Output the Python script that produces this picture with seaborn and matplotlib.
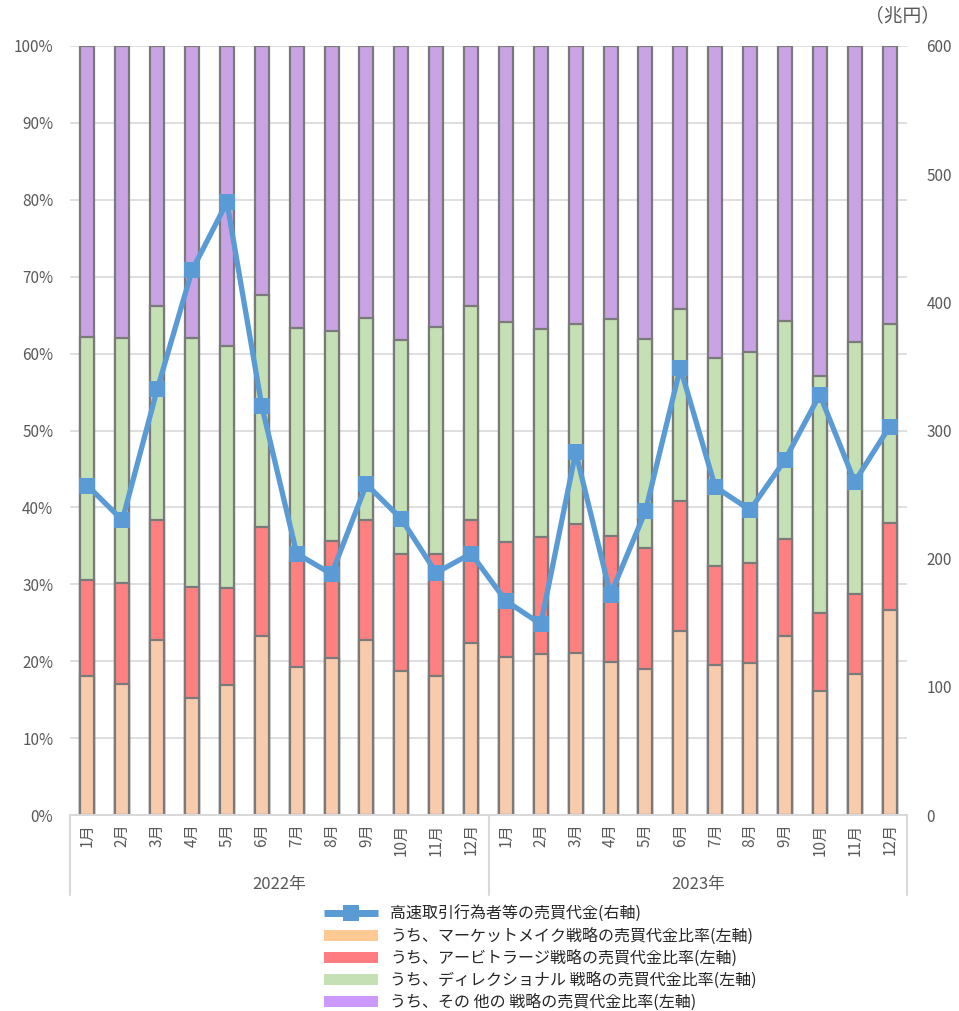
# -*- coding: utf-8 -*-
import numpy as np
import pandas as pd

import matplotlib
matplotlib.use('Agg')
import matplotlib.pyplot as plt
import matplotlib.transforms as mtransforms
from matplotlib.patches import Patch
from matplotlib.lines import Line2D
import seaborn as sns

sns.set_style("white")
plt.rcParams['font.family'] = ['Noto Sans CJK JP', 'DejaVu Sans']

years = ["2022年", "2023年"]
months = ["1月", "2月", "3月", "4月", "5月", "6月", "7月", "8月", "9月", "10月", "11月", "12月"]

# shares (%) by strategy, 2022/1 .. 2023/12
market_make = [18.1, 17.0, 22.8, 15.2, 16.9, 23.3, 19.2, 20.4, 22.8, 18.7, 18.1, 22.4,
               20.5, 20.9, 21.1, 19.9, 19.0, 23.9, 19.5, 19.8, 23.3, 16.1, 18.3, 26.7]
arbitrage = [12.5, 13.2, 15.6, 14.4, 12.6, 14.2, 14.0, 15.2, 15.6, 15.2, 15.8, 16.0,
             15.0, 15.3, 16.7, 16.4, 15.7, 16.9, 12.9, 13.0, 12.6, 10.2, 10.4, 11.3]
directional = [31.6, 31.8, 27.8, 32.4, 31.5, 30.1, 30.1, 27.3, 26.2, 27.9, 29.6, 27.8,
               28.6, 27.0, 26.0, 28.2, 27.2, 25.0, 27.0, 27.4, 28.3, 30.8, 32.8, 25.8]
other = [37.8, 38.0, 33.8, 38.0, 39.0, 32.4, 36.7, 37.1, 35.4, 38.2, 36.5, 33.8,
         35.9, 36.8, 36.2, 35.5, 38.1, 34.2, 40.6, 39.8, 35.8, 42.9, 38.5, 36.2]
# HFT turnover (trillion yen, right axis)
turnover = [257, 230, 332, 425, 478, 319, 204, 188, 258, 231, 189, 204,
            167, 149, 283, 172, 237, 349, 256, 238, 277, 328, 260, 303]

labels = ["高速取引行為者等の売買代金(右軸)",
          "うち、マーケットメイク戦略の売買代金比率(左軸)",
          "うち、アービトラージ戦略の売買代金比率(左軸)",
          "うち、ディレクショナル 戦略の売買代金比率(左軸)",
          "うち、その 他の 戦略の売買代金比率(左軸)"]
bar_colors = ["#F8CBAD", "#FF8080", "#C5E0B4", "#C9A3E3"]
legend_colors = ["#FFC993", "#FF7C80", "#C5E0B4", "#CC99FF"]
line_color = "#5B9BD5"
text_color = "#595959"
grid_color = "#D9D9D9"

keys = [y + m for y in years for m in months]
df = pd.DataFrame({"key": keys, "mm": market_make, "arb": arbitrage,
                   "dir": directional, "oth": other})
df["c1"] = df["mm"]
df["c2"] = df["c1"] + df["arb"]
df["c3"] = df["c2"] + df["dir"]
df["c4"] = df["c3"] + df["oth"]

fig = plt.figure(figsize=(9.59, 10.11), dpi=100)
ax = fig.add_axes([70/959, 1-815/1011, 837/959, 769/1011])

# stacked bars: draw cumulative layers from top to bottom
for col, c in zip(["c4", "c3", "c2", "c1"], bar_colors[::-1]):
    sns.barplot(data=df, x="key", y=col, order=keys, color=c, width=0.4,
                edgecolor="#7A7A7A", linewidth=1.6, errorbar=None, saturation=1, ax=ax)

ax.set_xlim(-0.5, 23.5)
ax.set_ylim(0, 100)
ax.set_yticks(np.arange(0, 101, 10))
ax.set_yticklabels([f"{v}%" for v in range(0, 101, 10)])
ax.set_xticks(range(24))
ax.set_xticklabels(months * 2, rotation=90)
ax.set_xlabel("")
ax.set_ylabel("")
ax.yaxis.grid(True, color=grid_color, lw=1.2)
ax.set_axisbelow(True)
for s in ["top", "left", "right"]:
    ax.spines[s].set_visible(False)
ax.spines["bottom"].set_color(grid_color)
ax.spines["bottom"].set_linewidth(1.5)
ax.tick_params(axis="y", length=0, pad=12, labelsize=11, labelcolor=text_color)
ax.tick_params(axis="x", length=0, pad=6, labelsize=11, labelcolor=text_color)

# category group separators and year labels
trans = mtransforms.blended_transform_factory(ax.transData, ax.transAxes)
for xv in [-0.5, 11.5, 23.5]:
    ax.plot([xv, xv], [0, -0.104], transform=trans, color=grid_color, lw=1.5, clip_on=False)
for i, y in enumerate(years):
    ax.text(5.5 + 12*i, -0.091, y, transform=trans, ha="center", va="center",
            fontsize=12, color=text_color)

ax2 = ax.twinx()
sns.lineplot(x=np.arange(24), y=turnover, ax=ax2, color=line_color, lw=3.8,
             marker="s", markersize=11, markeredgewidth=0)
ax2.set_ylim(0, 600)
ax2.set_yticks(range(0, 601, 100))
for s in ax2.spines.values():
    s.set_visible(False)
ax2.tick_params(axis="y", length=0, pad=14, labelsize=11, labelcolor=text_color)
fig.text(903/959, 1-16/1011, "（兆円）", ha="center", va="center", fontsize=13.5, color=text_color)

handles = [Line2D([0], [0], color=line_color, lw=5, marker="s", markersize=12,
                  markeredgewidth=0, solid_capstyle="butt")]
handles += [Patch(facecolor=c, edgecolor="none") for c in legend_colors]
fig.legend(handles, labels, loc="upper left", bbox_to_anchor=(324/959, 1-906/1011),
           frameon=False, fontsize=11.5, handlelength=3.4, handleheight=0.75,
           labelspacing=0.3, handletextpad=0.75, borderpad=0, borderaxespad=0,
           labelcolor="#262626")

plt.savefig("out.png", dpi=100)
plt.close()
